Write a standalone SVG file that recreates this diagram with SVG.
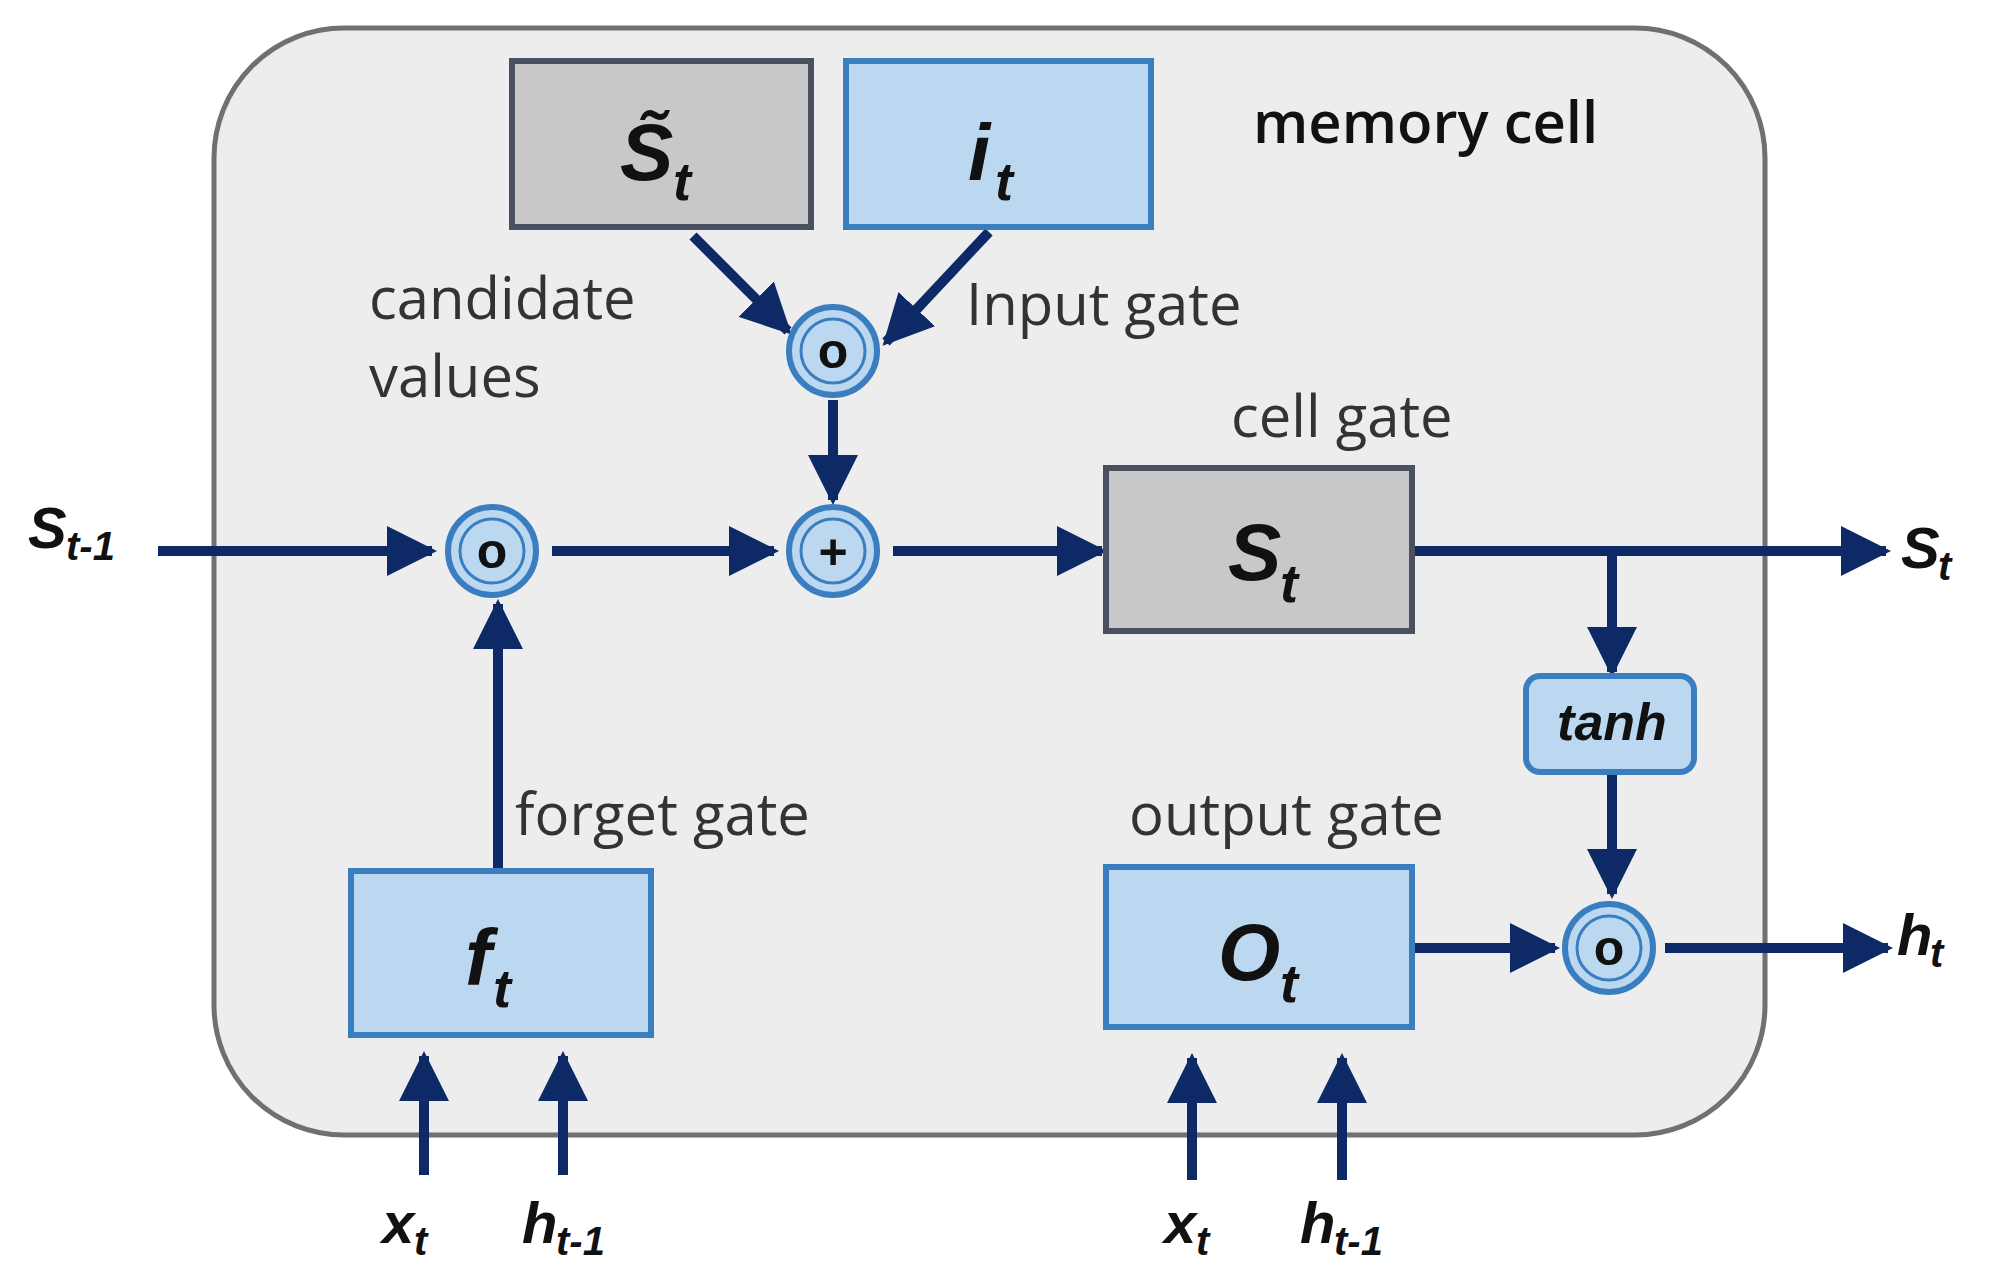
<svg xmlns="http://www.w3.org/2000/svg" width="1994" height="1288" viewBox="0 0 1994 1288">
<defs>
<marker id="ah" viewBox="0 0 10 10" refX="9" refY="5" markerWidth="5" markerHeight="5" orient="auto" markerUnits="strokeWidth"><path d="M0,0 L10,5 L0,10 z" fill="#0d2a66"/></marker>
<style>
.c{stroke:#0d2a66;stroke-width:10;fill:none;marker-end:url(#ah)}
.gray{fill:#c8c8c8;stroke:#4a5060;stroke-width:6}
.blue{fill:#bcd8f0;stroke:#3a7ec0;stroke-width:6}
.op{fill:#bcd8f0;stroke:#3a7ec0;stroke-width:6}
.lbl{font-family:"Open Sans","Liberation Sans",sans-serif;font-size:58px;fill:#333}
.m{font-family:"Liberation Sans",sans-serif;font-style:italic;font-weight:bold;fill:#111}
.sym{font-family:"Liberation Sans",sans-serif;font-weight:bold;font-size:50px;fill:#111;text-anchor:middle}
</style>
</defs>
<rect width="1994" height="1288" fill="#fff"/>
<rect x="214" y="28" width="1551" height="1107" rx="130" fill="#ededed" stroke="#707070" stroke-width="5"/>
<text x="1253" y="143" class="lbl" font-size="60" style="fill:#111;font-weight:600">memory cell</text>
<text x="369" y="319" class="lbl">candidate</text>
<text x="369" y="397" class="lbl">values</text>
<text x="966" y="325" class="lbl">Input gate</text>
<text x="1231" y="437" class="lbl">cell gate</text>
<text x="515" y="835" class="lbl">forget gate</text>
<text x="1129" y="835" class="lbl">output gate</text>
<g id="connectors">
<line class="c" x1="158" y1="551" x2="432" y2="551"/>
<line class="c" x1="552" y1="551" x2="774" y2="551"/>
<line class="c" x1="893" y1="551" x2="1102" y2="551"/>
<line class="c" x1="1415" y1="551" x2="1886" y2="551"/>
<line class="c" x1="1612" y1="551" x2="1612" y2="672"/>
<line class="c" x1="1612" y1="775" x2="1612" y2="894"/>
<line class="c" x1="1415" y1="948" x2="1555" y2="948"/>
<line class="c" x1="1665" y1="948" x2="1888" y2="948"/>
<line class="c" x1="833" y1="400" x2="833" y2="500"/>
<line class="c" x1="693" y1="236" x2="788" y2="331"/>
<line class="c" x1="989" y1="232" x2="886" y2="342"/>
<line class="c" x1="498" y1="871" x2="498" y2="604"/>
<line class="c" x1="424" y1="1175" x2="424" y2="1056"/>
<line class="c" x1="563" y1="1175" x2="563" y2="1056"/>
<line class="c" x1="1192" y1="1180" x2="1192" y2="1058"/>
<line class="c" x1="1342" y1="1180" x2="1342" y2="1058"/>
</g>
<g id="stilde"><rect class="gray" x="512" y="61" width="299" height="166"/><text class="m" x="620" y="180" font-size="80">S&#771;</text><text class="m" x="673" y="200" font-size="54">t</text></g>
<g id="it"><rect class="blue" x="846" y="61" width="305" height="166"/><text class="m" x="968" y="180" font-size="80">i</text><text class="m" x="995" y="200" font-size="54">t</text></g>
<g id="mulin"><circle class="op" cx="833" cy="351" r="44"/><circle cx="833" cy="351" r="32" fill="#bcd8f0" stroke="#3a7ec0" stroke-width="3"/><text class="sym" x="833" y="368">o</text></g>
<g id="mulf"><circle class="op" cx="492" cy="551" r="44"/><circle cx="492" cy="551" r="32" fill="#bcd8f0" stroke="#3a7ec0" stroke-width="3"/><text class="sym" x="492" y="568">o</text></g>
<g id="plus"><circle class="op" cx="833" cy="551" r="44"/><circle cx="833" cy="551" r="32" fill="#bcd8f0" stroke="#3a7ec0" stroke-width="3"/><text class="sym" x="833" y="569">+</text></g>
<g id="st"><rect class="gray" x="1106" y="468" width="306" height="163"/><text class="m" x="1228" y="580" font-size="80">S</text><text class="m" x="1280" y="602" font-size="54">t</text></g>
<g id="tanh"><rect class="blue" x="1526" y="676" width="168" height="96" rx="14"/><text class="m" x="1612" y="740" font-size="52" text-anchor="middle">tanh</text></g>
<g id="mulo"><circle class="op" cx="1609" cy="948" r="44"/><circle cx="1609" cy="948" r="32" fill="#bcd8f0" stroke="#3a7ec0" stroke-width="3"/><text class="sym" x="1609" y="965">o</text></g>
<g id="ft"><rect class="blue" x="351" y="871" width="300" height="164"/><text class="m" x="465" y="985" font-size="80">f</text><text class="m" x="493" y="1007" font-size="54">t</text></g>
<g id="ot"><rect class="blue" x="1106" y="867" width="306" height="160"/><text class="m" x="1218" y="980" font-size="80">O</text><text class="m" x="1280" y="1002" font-size="54">t</text></g>
<g id="labels">
<text class="m" x="28" y="548" font-size="58">S</text><text class="m" x="66" y="560" font-size="40">t-1</text>
<text class="m" x="1901" y="568" font-size="58">S</text><text class="m" x="1938" y="580" font-size="40">t</text>
<text class="m" x="1897" y="955" font-size="58">h</text><text class="m" x="1930" y="967" font-size="40">t</text>
<text class="m" x="382" y="1243" font-size="58">x</text><text class="m" x="414" y="1255" font-size="40">t</text>
<text class="m" x="522" y="1243" font-size="58">h</text><text class="m" x="556" y="1255" font-size="40">t-1</text>
<text class="m" x="1164" y="1243" font-size="58">x</text><text class="m" x="1196" y="1255" font-size="40">t</text>
<text class="m" x="1300" y="1243" font-size="58">h</text><text class="m" x="1334" y="1255" font-size="40">t-1</text>
</g>
</svg>
